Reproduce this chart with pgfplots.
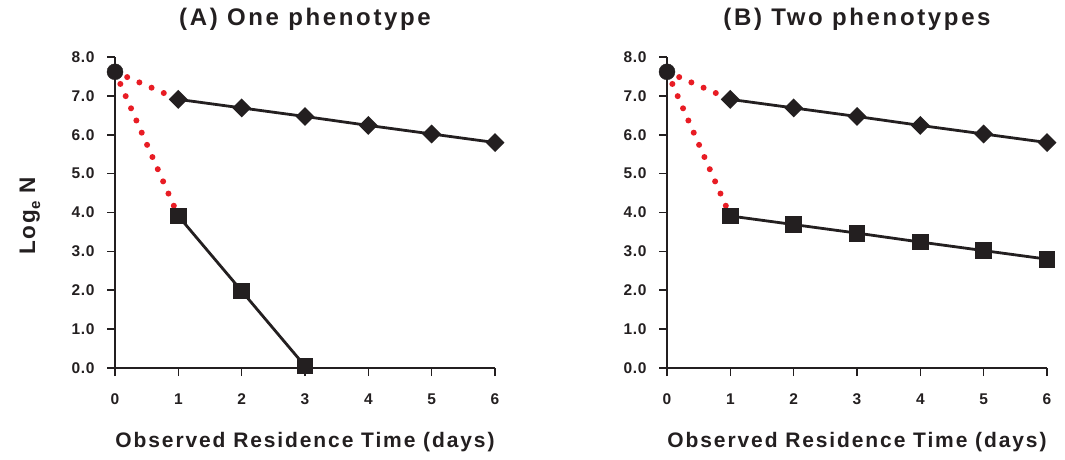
\documentclass[border=0pt]{standalone}
\usepackage{fontspec}
\setmainfont{Liberation Sans}
\usepackage{pgfplots}
\pgfplotsset{compat=1.18}
\definecolor{dotred}{RGB}{232,28,36}
\definecolor{ink}{RGB}{35,31,32}

\pgfplotstableread{
x y
1 6.91
2 6.69
3 6.47
4 6.24
5 6.02
6 5.80
}\diamonds
\pgfplotstableread{
x y
1 3.91
2 1.98
3 0.05
}\squaresA
\pgfplotstableread{
x y
1 3.91
2 3.69
3 3.47
4 3.24
5 3.02
6 2.80
}\squaresB

\pgfplotsset{myaxis/.style={
  scale only axis, width=380pt, height=311pt,
  xmin=0, xmax=6, ymin=0, ymax=8,
  axis lines=left, axis line style={-, line width=1.6pt, color=ink},
  tick align=outside, major tick length=8pt,
  every tick/.style={line width=1.6pt, color=ink},
  xtick={0,...,6}, ytick={0,...,8},
  clip=false,
  /pgf/number format/assume math mode=true,
  yticklabel style={/pgf/number format/.cd, fixed, fixed zerofill, precision=1, /tikz/.cd, xshift=-9pt},
  xticklabel style={yshift=-14pt},
  ticklabel style={font=\fontsize{15.5}{17}\selectfont\bfseries\addfontfeature{LetterSpace=4}, color=ink},
  title style={font=\fontsize{24}{28}\selectfont\bfseries\addfontfeature{LetterSpace=11}, color=ink,
    at={(axis description cs:0.5,1.1029)}, anchor=center},
  xlabel style={font=\fontsize{21}{24}\selectfont\bfseries\addfontfeature{LetterSpace=9}, color=ink,
    at={(axis description cs:0.5,-0.238)}, anchor=center},
  ylabel style={font=\fontsize{22.5}{25}\selectfont\bfseries\addfontfeature{LetterSpace=9}, color=ink,
    at={(axis description cs:-0.2237,0.489)}, anchor=center},
  xlabel={Observed Residence Time (days)},
}}
\pgfplotsset{
  reddot/.style={dotred, line width=6pt, line cap=round, dash pattern=on 0pt off 13.3pt, mark=none, forget plot},
  dia/.style={ink, line width=2.8pt, mark=square*, mark size=5.3pt, mark options={rotate=45, solid, fill=ink}},
  sq/.style={ink, line width=2.8pt, mark=square*, mark size=7pt, mark options={solid, fill=ink}},
  circ/.style={ink, only marks, mark=*, mark size=8pt, mark options={fill=ink}},
}

\begin{document}
\begin{tikzpicture}
\begin{axis}[myaxis, at={(115pt,91pt)}, anchor=south west,
  title={(A) One phenotype}, ylabel={Log\raisebox{-5pt}{\fontsize{15}{15}\selectfont e} N}]
\addplot[reddot] coordinates {(0,7.62) (1,6.91)};
\addplot[reddot] coordinates {(0,7.62) (1,3.91)};
\addplot[dia] table[x=x,y=y] {\diamonds};
\addplot[sq] table[x=x,y=y] {\squaresA};
\addplot[circ] coordinates {(0,7.62)};
\end{axis}
\begin{axis}[myaxis, at={(667pt,91pt)}, anchor=south west,
  title={(B) Two phenotypes}]
\addplot[reddot] coordinates {(0,7.62) (1,6.91)};
\addplot[reddot] coordinates {(0,7.62) (1,3.91)};
\addplot[dia] table[x=x,y=y] {\diamonds};
\addplot[sq] table[x=x,y=y] {\squaresB};
\addplot[circ] coordinates {(0,7.62)};
\end{axis}
\pgfresetboundingbox
\useasboundingbox (0,0) rectangle (1065pt,459pt);
\end{tikzpicture}
\end{document}
